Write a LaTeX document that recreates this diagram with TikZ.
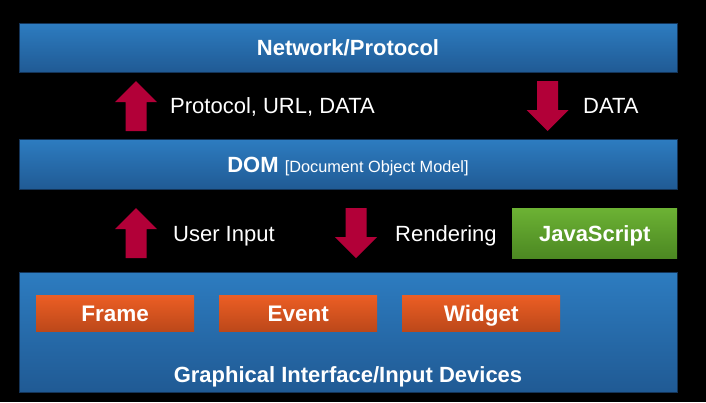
\documentclass[tikz,border=0pt]{standalone}
\usepackage{fontspec}
\setmainfont{Liberation Sans}
\usetikzlibrary{calc}
\definecolor{bartop}{RGB}{45,124,192}
\definecolor{barbot}{RGB}{32,90,148}
\definecolor{barline}{RGB}{20,52,88}
\definecolor{ortop}{RGB}{236,94,36}
\definecolor{orbot}{RGB}{188,72,26}
\definecolor{grtop}{RGB}{108,178,52}
\definecolor{grbot}{RGB}{76,136,34}
\definecolor{arrowred}{RGB}{178,0,56}
\tikzset{
  bar/.style={draw=barline, line width=1pt, top color=bartop, bottom color=barbot, anchor=north west, inner sep=0pt},
  orbox/.style={top color=ortop, bottom color=orbot, anchor=north west, inner sep=0pt, minimum width=158pt, minimum height=36pt,
    text=white, font=\fontsize{22.5}{26}\selectfont\bfseries, text height=16pt, text depth=0pt},
  jsbox/.style={top color=grtop, bottom color=grbot, anchor=north west, inner sep=0pt, minimum width=165pt, minimum height=50pt,
    text=white, font=\fontsize{22}{26}\selectfont\bfseries, text height=16pt, text depth=0pt},
  redfill/.style={fill=arrowred, draw=none},
  title/.style={text=white, font=\fontsize{22}{26}\selectfont\bfseries, inner sep=0pt, text height=16pt, text depth=0pt},
  lbl/.style={text=white, font=\fontsize{22}{26}\selectfont, inner sep=0pt, anchor=west, text height=16pt, text depth=0pt}
}
% up arrow centred at #1 ; down arrow centred at #1
\newcommand{\uparr}[1]{\fill[redfill] ($#1+(-10.5,25)$) -- ($#1+(10.5,25)$) -- ($#1+(10.5,-4)$) -- ($#1+(21,-4)$) -- ($#1+(0,-25)$) -- ($#1+(-21,-4)$) -- ($#1+(-10.5,-4)$) -- cycle;}
\newcommand{\downarr}[1]{\fill[redfill] ($#1+(-10.5,-25)$) -- ($#1+(10.5,-25)$) -- ($#1+(10.5,4)$) -- ($#1+(21,4)$) -- ($#1+(0,25)$) -- ($#1+(-21,4)$) -- ($#1+(-10.5,4)$) -- cycle;}
\begin{document}
\begin{tikzpicture}[x=1pt, y=-1pt]
\fill[black] (0,0) rectangle (706,402);
\useasboundingbox (0,0) rectangle (706,402);

% bars
\node[bar, minimum width=658pt, minimum height=49pt] (net) at (19,23) {};
\node[bar, minimum width=658pt, minimum height=50pt] (dom) at (19,139) {};
\node[bar, minimum width=658pt, minimum height=120pt] (gui) at (19,272) {};

\node[title] (nettxt) at (348,47) {Network/Protocol};
\node[title] (domtxt) at (348,164) {DOM {\fontsize{16.3}{19}\selectfont\mdseries [Document Object Model]}};
\node[title] (guitxt) at (348,374.5) {Graphical Interface/Input Devices};

% arrows upper
\coordinate (up1) at (136,106);
\uparr{(up1)}
\node[lbl] (l1) at (170,105) {Protocol, URL, DATA};
\coordinate (down1) at (547.5,106);
\downarr{(down1)}
\node[lbl] (l2) at (583,105) {DATA};

% arrows lower
\coordinate (up2) at (136,233);
\uparr{(up2)}
\node[lbl] (l3) at (173,233.5) {User Input};
\coordinate (down2) at (356,233);
\downarr{(down2)}
\node[lbl] (l4) at (395,233.5) {Rendering};
\node[jsbox] (js) at (512,208) {JavaScript};

% orange boxes
\node[orbox] (frame) at (36,295) {Frame};
\node[orbox] (event) at (219,295) {Event};
\node[orbox] (widget) at (402,295) {Widget};
\end{tikzpicture}
\end{document}
